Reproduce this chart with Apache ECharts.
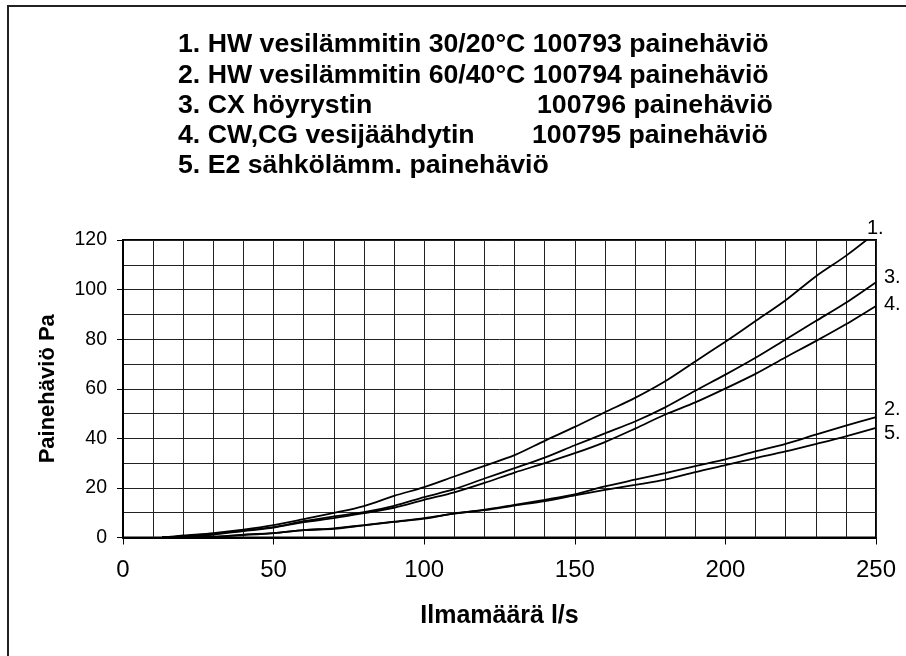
<!DOCTYPE html>
<html>
<head>
<meta charset="utf-8">
<script src="https://cdn.jsdelivr.net/npm/echarts@6/dist/echarts.min.js"></script>
<style>
html,body{margin:0;padding:0;background:#fff;}
#main{width:906px;height:656px;}
</style>
</head>
<body>
<div id="main"></div>
<script>
// ---- data ----
var airflow = [13, 20, 30, 40, 50, 60, 70, 80, 90, 100, 110, 120, 130, 140, 150, 160, 170, 180, 190, 200, 210, 220, 230, 240, 250];
var hw3020 = [0, 0.8, 1.8, 3.2, 5.0, 7.4, 9.9, 12.7, 16.8, 20.3, 24.6, 28.9, 33.2, 39.0, 44.6, 50.5, 56.3, 63.0, 71.0, 79.0, 87.3, 95.7, 105.3, 113.6, 123.0];
var hw6040 = [0, 0, 0.3, 1.0, 1.8, 3.0, 3.7, 5.0, 6.4, 7.8, 9.6, 11.2, 13.2, 15.2, 17.4, 20.6, 23.3, 26.0, 28.8, 31.5, 34.7, 37.8, 41.5, 45.1, 48.6];
var cx = [0, 0.5, 1.4, 2.8, 4.2, 6.6, 8.5, 10.2, 12.8, 16.3, 19.5, 23.8, 28.0, 32.2, 37.2, 42.0, 46.8, 52.5, 59.2, 65.7, 72.5, 79.9, 87.3, 94.7, 103.0];
var cwcg = [0, 0.4, 1.2, 2.6, 4.0, 6.2, 7.8, 9.8, 12.0, 15.2, 18.2, 22.0, 26.2, 30.0, 34.0, 38.5, 43.9, 49.6, 54.5, 60.1, 66.0, 72.7, 79.2, 86.0, 93.4];
var e2 = [0, 0, 0.3, 1.2, 1.8, 3.0, 3.5, 4.9, 6.3, 7.6, 9.7, 11.0, 12.9, 14.7, 17.0, 19.2, 21.2, 23.3, 26.4, 29.2, 32.0, 34.7, 37.7, 40.8, 44.2];

var seriesNames = ['1.', '2.', '3.', '4.', '5.'];
var seriesValues = [hw3020, hw6040, cx, cwcg, e2];
var legendLines = [
  ['1. HW vesilämmitin 30/20°C 100793 painehäviö', ''],
  ['2. HW vesilämmitin 60/40°C 100794 painehäviö', ''],
  ['3. CX höyrystin', '100796 painehäviö'],
  ['4. CW,CG vesijäähdytin', '100795 painehäviö'],
  ['5. E2 sähkölämm. painehäviö', '']
];
var xTitle = 'Ilmamäärä l/s';
var yTitle = 'Painehäviö Pa';

// ---- style ----
var FONT = "'Liberation Sans', Arial, sans-serif";
var suffixX = [0, 0, 537, 532, 0];
var labelOffsets = [[-9, -12], [8, -8], [8, -5], [8, -1], [8, 6]];

function pairs(vals) {
  return airflow.map(function (x, i) { return [x, vals[i]]; });
}

var chart = echarts.init(document.getElementById('main'), null, {renderer: 'canvas'});

var series = seriesValues.map(function (vals, i) {
  return {
    name: seriesNames[i],
    type: 'line',
    data: pairs(vals),
    showSymbol: false,
    smooth: 0.3,
    clip: true,
    lineStyle: {color: '#000', width: 1.8},
    animation: false
  };
});

var graphics = [{
  type: 'rect', z: -1,
  shape: {x: 8, y: 6, width: 1000, height: 1000},
  style: {fill: 'none', stroke: '#222', lineWidth: 2}
}];
legendLines.forEach(function (ln, i) {
  graphics.push({
    type: 'text', x: 178, y: 45 + i * 30.2,
    style: {text: ln[0], font: 'bold 26.7px ' + FONT, fill: '#000', textVerticalAlign: 'middle'}
  });
  if (ln[1]) {
    graphics.push({
      type: 'text', x: suffixX[i], y: 45 + i * 30.2,
      style: {text: ln[1], font: 'bold 26.7px ' + FONT, fill: '#000', textVerticalAlign: 'middle'}
    });
  }
});

chart.setOption({
  backgroundColor: '#fff',
  animation: false,
  grid: {left: 123, right: 30, top: 240, bottom: 118.5, show: true, borderColor: '#000', borderWidth: 2, backgroundColor: 'transparent'},
  xAxis: {
    type: 'value', min: 0, max: 250, interval: 50,
    name: xTitle, nameLocation: 'middle', nameGap: 66,
    nameTextStyle: {fontFamily: FONT, fontWeight: 'bold', fontSize: 25, color: '#000'},
    axisLine: {show: true, lineStyle: {color: '#000', width: 2}},
    axisTick: {show: true, length: 7, lineStyle: {color: '#000', width: 1}},
    axisLabel: {fontFamily: FONT, fontSize: 24, color: '#000', margin: 21},
    splitLine: {show: true, lineStyle: {color: '#222', width: 1}},
    minorTick: {show: false, splitNumber: 5},
    minorSplitLine: {show: true, lineStyle: {color: '#222', width: 1}}
  },
  yAxis: {
    type: 'value', min: 0, max: 120, interval: 20,
    name: yTitle, nameLocation: 'middle', nameGap: 64, nameRotate: 90,
    nameTextStyle: {fontFamily: FONT, fontWeight: 'bold', fontSize: 22, color: '#000'},
    axisLine: {show: true, lineStyle: {color: '#000', width: 2}},
    axisTick: {show: true, length: 6, lineStyle: {color: '#000', width: 1}},
    axisLabel: {fontFamily: FONT, fontSize: 19.5, color: '#000', margin: 16},
    splitLine: {show: true, lineStyle: {color: '#222', width: 1}},
    minorTick: {show: false, splitNumber: 2},
    minorSplitLine: {show: true, lineStyle: {color: '#222', width: 1}}
  },
  series: series,
  graphic: graphics
});

// end-of-curve labels, positioned from the data via the chart's own scales
var yMax = 120;
var endLabels = seriesValues.map(function (vals, i) {
  var last = vals.length - 1;
  var p = chart.convertToPixel({gridIndex: 0}, [airflow[last], Math.min(vals[last], yMax)]);
  return {
    type: 'text',
    x: p[0] + labelOffsets[i][0], y: p[1] + labelOffsets[i][1],
    style: {text: seriesNames[i], font: '20px ' + FONT, fill: '#000', textVerticalAlign: 'middle', textAlign: 'left'}
  };
});
chart.setOption({graphic: graphics.concat(endLabels)});
</script>
</body>
</html>
